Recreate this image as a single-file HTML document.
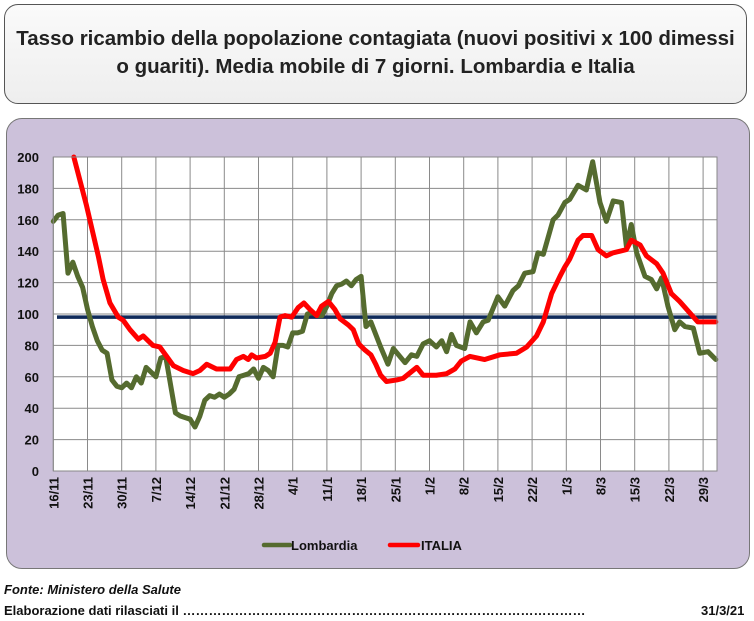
<!DOCTYPE html>
<html><head><meta charset="utf-8"><style>
body{margin:0;width:754px;height:621px;background:#fff;font-family:"Liberation Sans",sans-serif;position:relative;overflow:hidden}
#title{position:absolute;left:4px;top:4px;width:743px;height:100px;border:1px solid #555;border-radius:14px;background:linear-gradient(#fafafa,#eeeeee);box-sizing:border-box;text-align:center;font-size:20.5px;font-weight:bold;color:#222;line-height:28px;padding-top:20px;white-space:nowrap}
#panel{position:absolute;left:6px;top:118px;width:744px;height:451px;background:#ccc1da;border:1px solid #777;border-radius:16px;box-sizing:border-box}
svg{position:absolute;left:0;top:0}
.f{position:absolute;font-size:13px;font-weight:bold;color:#111;white-space:nowrap}
</style></head><body>
<div id="title">Tasso ricambio della popolazione contagiata (nuovi positivi x 100 dimessi<br>o guariti). Media mobile di 7 giorni. Lombardia e Italia</div>
<div id="panel"></div>
<svg id="chart" width="754" height="621"></svg>
<div class="f" style="left:4px;top:582px;font-style:italic">Fonte: Ministero della Salute</div>
<div class="f" style="left:4px;top:603px">Elaborazione dati rilasciati il …………………………………………………………………………………</div>
<div class="f" style="left:697px;top:603px;background:#fff;padding-left:4px">31/3/21</div>
<script>
const xLabels=["16/11","23/11","30/11","7/12","14/12","21/12","28/12","4/1","11/1","18/1","25/1","1/2","8/2","15/2","22/2","1/3","8/3","15/3","22/3","29/3"];
const yTicks=[0,20,40,60,80,100,120,140,160,180,200];
const lomDays=[0,1,2,3,4,5,6,7,8,9,10,11,12,13,14,15,16,17,18,19,20,21,22,23,24,25,26,27,28,29,30,31,32,33,34,35,36,37,38,39,40,41,42,43,44,45,46,47,48,49,50,51,52,53,54,55,56,57,58,59,60,61,62,63,64,65,67,68.5,69.6,72,73.3,74.4,75.7,77,78.4,79.5,80.5,81.5,82.5,84.2,85.3,86.6,88,89,91,92.4,94.1,95.2,96.5,98.2,99.2,100.3,102.3,103.3,104.7,105.7,107.4,109.1,110.4,111.9,113.2,114.6,116.3,117.3,118.3,119.4,121.1,122.4,123.5,124.5,125.8,127.2,128.2,129.3,131,132.3,134,135.6];
const lomVals=[159,163,164,126,133,124,117,103,92,83,77,75,58,54,53,56,53,60,56,66,63,60,72,73,55,37,35,34,33,28,35,45,48,47,49,47,49,52,60,61,62,65,59,66,64,60,80,80,79,88,88,89,100,101,99,99,105,113,118,119,121,118,122,124,92,95,79,68,78,69,74,73,81,83,79,83,76,87,80,78,95,88,95,96,111,105,115,118,126,127,139,138,160,163,171,173,182,179,197,171,159,172,171,143,157,139,124,122,116,123,105,90,95,92,91,75,76,71];
const itaDays=[4.2,6.8,9.2,10.2,11.6,13.3,14.3,15.7,17.4,18.4,20.4,21.8,23.2,24.6,26.6,28.6,30,31.4,33.4,36.2,37.5,38.9,39.9,40.6,41.6,43.4,44.4,45.4,46.4,47.4,48.8,50.1,51.3,52.5,53.9,54.9,56.3,57.6,58.7,60.4,61.4,62.5,63.8,65,66,67,68.2,70.3,71.6,74.4,75.7,78.4,80.5,82.2,83.5,85.3,88.3,91.4,94.8,96.9,98.9,100.3,102,103.7,104.7,105.7,107.4,108.4,110.2,111.5,113.2,114.6,116,117.3,118.3,120.1,121.4,123.5,124.8,126.5,128.2,130.2,131.9,133.6,135.6];
const itaVals=[200,169,137,122,107,98,96,90,84,86,80,79,73,67,64,62,64,68,65,65,71,73,71,74,72,73,75,82,98,99,98,104,107,103,99,105,108,103,97,93,90,81,77,74,68,61,57,58,59,66,61,61,62,65,70,73,71,74,75,79,86,95,113,124,130,135,147,150,150,141,137,139,140,141,147,144,137,132,126,113,108,101,95,95,95];
const threshold=98;
const L=53.3,R=717,T=157,B=471,pxDay=34.2/7;
const X=d=>L+d*pxDay, Y=v=>B-(v/200)*(B-T);
const svg=document.getElementById('chart');const NS='http://www.w3.org/2000/svg';
function mk(t,a){const e=document.createElementNS(NS,t);for(const k in a)e.setAttribute(k,a[k]);svg.appendChild(e);return e;}
const bg=mk('rect',{x:L,y:T,width:R-L,height:B-T,fill:'#fff'});


yTicks.forEach(v=>{
 const g=mk('line',{x1:L,x2:R,y1:Y(v),y2:Y(v),stroke:'#8a8a8a','stroke-width':1});
 
 
 const t=mk('text',{x:39,y:Y(v)+5,'text-anchor':'end','font-size':13,'font-weight':'bold',fill:'#111'});
 t.textContent=v;
 
 
});
xLabels.forEach((s,i)=>{
 const x=X(i*7);
 const g=mk('line',{x1:x,x2:x,y1:T,y2:B,stroke:'#8a8a8a','stroke-width':1});
 
 
 const t=mk('text',{x:0,y:0,'text-anchor':'end','font-size':13,'font-weight':'bold',fill:'#111',transform:`translate(${x+5},${B+6}) rotate(-90)`});
 t.textContent=s;
 
 
});
const th=mk('line',{x1:57,x2:R,y1:Y(threshold),y2:Y(threshold),stroke:'#0f2a5a','stroke-width':3.5});


function series(days,vals,col,name){
 const p=mk('polyline',{points:days.map((d,i)=>X(d)+','+Y(vals[i])).join(' '),fill:'none',stroke:col,'stroke-width':5,'stroke-linejoin':'round','stroke-linecap':'round'});
 
 
}
series(lomDays,lomVals,'#556b2f','lombardia-line');
series(itaDays,itaVals,'#ff0000','italia-line');
const cp=mk('rect',{x:L,y:T,width:R-L,height:B-T,fill:'none',stroke:'#888'});


const l1=mk('line',{x1:264,x2:290,y1:545,y2:545,stroke:'#556b2f','stroke-width':4.5,'stroke-linecap':'round'});


const t1=mk('text',{x:291,y:550,'font-size':13,'font-weight':'bold',fill:'#111'});t1.textContent='Lombardia';


const l2=mk('line',{x1:390,x2:418,y1:545,y2:545,stroke:'#ff0000','stroke-width':4.5,'stroke-linecap':'round'});


const t2=mk('text',{x:421,y:550,'font-size':13,'font-weight':'bold',fill:'#111'});t2.textContent='ITALIA';


</script>
</body></html>
